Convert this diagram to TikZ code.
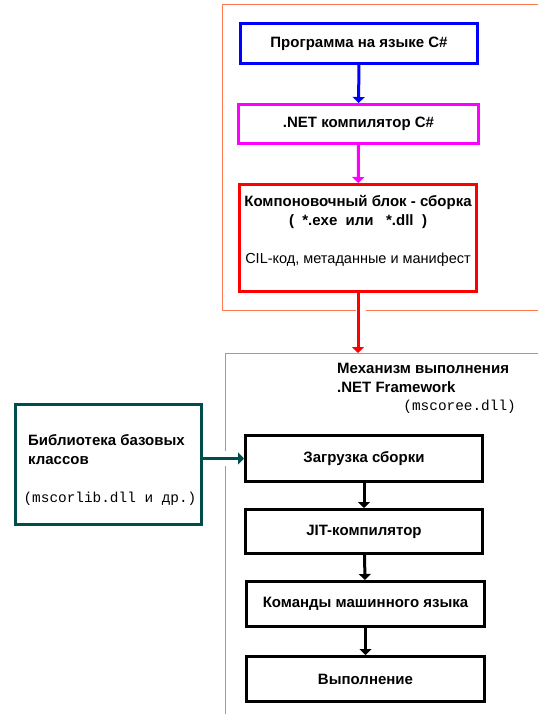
\documentclass[tikz,border=0pt]{standalone}
\usepackage{fontspec}
\setmainfont{Liberation Sans}
\setmonofont{Liberation Mono}
\usetikzlibrary{arrows.meta}
\definecolor{framecol}{RGB}{255,120,80}
\definecolor{libcol}{RGB}{0,77,77}
\definecolor{progcol}{RGB}{0,0,255}
\definecolor{compcol}{RGB}{255,0,255}
\definecolor{asmcol}{RGB}{255,0,0}
\begin{document}
\begin{tikzpicture}[x=1pt,y=-1pt,
    box/.style={draw,line width=3pt,minimum width=237pt,inner sep=0pt,
      font=\fontsize{15}{18}\selectfont\bfseries},
    frame/.style={draw=framecol,line width=1pt},
    txt/.style={inner sep=0pt,font=\fontsize{15}{19}\selectfont\bfseries},
    mono/.style={inner sep=0pt,font=\fontsize{14.4}{16}\selectfont\ttfamily}]
  \useasboundingbox (0,0) rectangle (538,714);
  \draw[frame] (538,5) -- (222,5) -- (222,310) -- (356,310);
  \draw[frame] (366,310) -- (538,310);
  \draw[frame] (538,353) -- (225,353) -- (225,451);
  \draw[frame] (225,466) -- (225,714);
  \draw
    (359,43.5) node[box,draw=progcol,minimum height=40pt] (prog){Программа на языке C\#}
    (358.5,124) node[box,draw=compcol,minimum width=240pt,minimum height=39pt] (comp){.NET компилятор C\#}
    (358,238) node[box,draw=asmcol,minimum height=107pt] (asm){}
    (358,202) node[txt] (asmname){Компоновочный блок - сборка}
    (358,222) node[txt] (asmext){(~~*.exe~~или~~~*.dll~~)}
    (358,260) node[txt,font=\fontsize{14.5}{18}\selectfont] (asmcil){CIL-код, метаданные и манифест}
    (337,377.5) node[txt,anchor=west,align=left] (clr){Механизм выполнения\\.NET Framework}
    (516,407) node[mono,anchor=east] (clrdll){(mscoree.dll)}
    (108.5,464.5) node[box,draw=libcol,minimum width=186pt,minimum height=120pt] (lib){}
    (28,449.5) node[txt,anchor=west,align=left] (libname){Библиотека базовых\\классов}
    (110,499) node[mono] (libdll){(mscorlib.dll и др.)}
    (364,458.5) node[box,minimum height=46pt] (load){Загрузка сборки}
    (364,531.5) node[box,minimum height=44pt] (jit){JIT-компилятор}
    (365.5,604) node[box,minimum width=238pt,minimum height=45pt] (cmd){Команды машинного языка}
    (365.5,679) node[box,minimum width=238pt,minimum height=45pt] (run){Выполнение};
  \coordinate (clrtop) at (asm.south |- 0,353);
  \begin{scope}[line width=3pt,-{Triangle[width=12pt,length=6pt]}]
    \draw[progcol] (prog) to (comp);
    \draw[compcol] (comp) to (asm);
    \draw[asmcol] (asm) to (clrtop);
    \draw[libcol] (lib.east |- load.west) to (load.west);
    \draw (load) to (jit);
    \draw (jit) to (cmd);
    \draw (cmd) to (run);
  \end{scope}
\end{tikzpicture}
\end{document}
